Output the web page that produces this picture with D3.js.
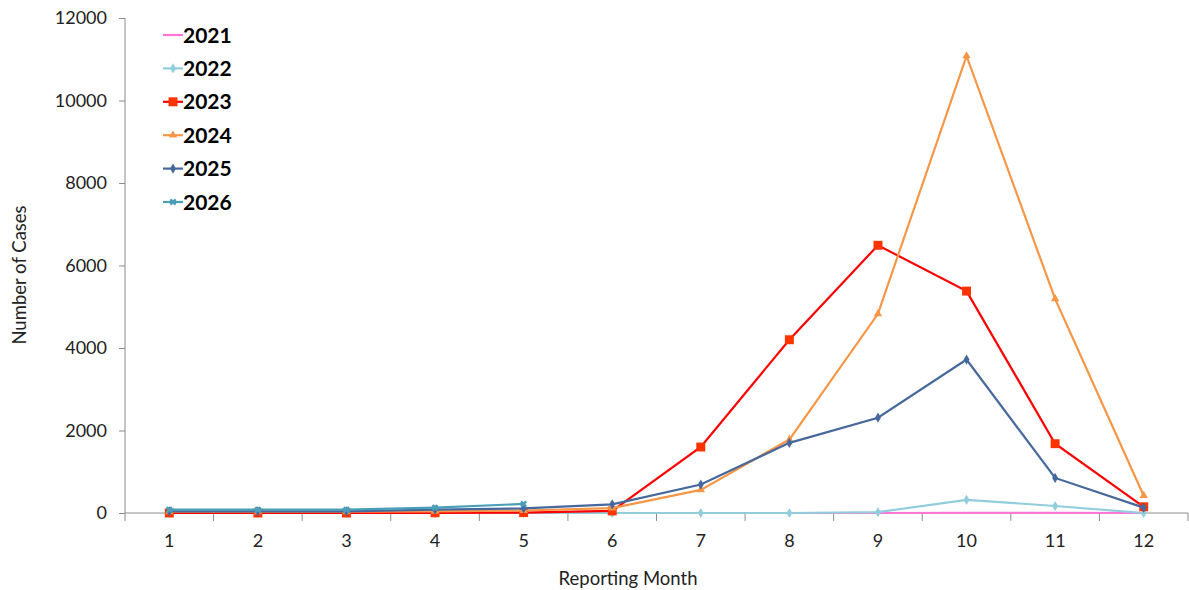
<!DOCTYPE html>
<html>
<head>
<meta charset="utf-8">
<script src="https://cdn.jsdelivr.net/npm/d3@7"></script>
<style>
  body { margin: 0; background: #fff; }
  text { font-family: Lato, "Open Sans", sans-serif; }
</style>
</head>
<body>
<script>
// Data
const months = [1, 2, 3, 4, 5, 6, 7, 8, 9, 10, 11, 12];
const years = ["2021", "2022", "2023", "2024", "2025", "2026"];
const cases2021 = [0, 0, 0, 0, 0, 0, 0, 0, 0, 5, 3, 0];
const cases2022 = [0, 0, 0, 0, 0, 0, 0, 0, 20, 320, 170, 0];
const cases2023 = [0, 0, 0, 5, 10, 50, 1600, 4200, 6490, 5380, 1680, 150];
const cases2024 = [30, 30, 30, 40, 60, 120, 560, 1780, 4830, 11080, 5190, 420];
const cases2025 = [40, 40, 40, 80, 110, 210, 690, 1700, 2310, 3720, 850, 130];
const cases2026 = [80, 80, 80, 130, 220, null, null, null, null, null, null, null];
const seriesValues = [cases2021, cases2022, cases2023, cases2024, cases2025, cases2026];
const yTicks = [0, 2000, 4000, 6000, 8000, 10000, 12000];

const colors = ["#ff77d9", "#92cddc", "#ff0000", "#f79646", "#46689c", "#4a9fb8"];
const markerColors = ["#ff77d9", "#92cddc", "#ff3300", "#f79646", "#46689c", "#4a9fb8"];
const markerTypes = [null, d3.symbolDiamond, d3.symbolSquare, d3.symbolTriangle, d3.symbolDiamond, d3.symbolCross];
const markerSizes = [0, 30, 80, 30, 30, 30];

const W = 1189, H = 590;
const margin = {top: 18, right: 1, bottom: 77, left: 125};
const width = W - margin.left - margin.right;
const height = H - margin.top - margin.bottom;

const svg = d3.select("body").append("svg")
    .attr("width", W)
    .attr("height", H);

const g = svg.append("g")
    .attr("transform", `translate(${margin.left},${margin.top})`);

const x = d3.scaleBand().domain(months).range([0, width]);
const y = d3.scaleLinear().domain([0, 12000]).range([height, 0]);

// Axes
const axisColor = "#8c8c8c";
const yAxis = g.append("g")
    .call(d3.axisLeft(y).tickValues(yTicks).tickFormat(d3.format("d")).tickSize(6).tickPadding(12));
yAxis.select(".domain").attr("stroke", axisColor).attr("d", `M0,0V${height}`);
yAxis.selectAll(".tick line").attr("stroke", axisColor);
yAxis.selectAll("text").attr("fill", "#222").style("font-size", "18px");

const xAxis = g.append("g")
    .attr("transform", `translate(0,${height})`)
    .call(d3.axisBottom(x).tickSize(0).tickPadding(21));
xAxis.select(".domain").attr("stroke", axisColor).attr("d", `M0,0H${width}`);
xAxis.selectAll("text").attr("fill", "#222").style("font-size", "18px");
// category boundary ticks
g.append("g").selectAll("line")
    .data(d3.range(months.length + 1))
    .enter().append("line")
    .attr("x1", i => i * x.step())
    .attr("x2", i => i * x.step())
    .attr("y1", height)
    .attr("y2", height + 8)
    .attr("stroke", axisColor);

// Series
const line = d3.line()
    .defined(d => d != null)
    .x((d, i) => x(months[i]) + x.bandwidth() / 2)
    .y(d => y(d));

seriesValues.forEach((vals, s) => {
  g.append("path")
      .datum(vals)
      .attr("fill", "none")
      .attr("stroke", colors[s])
      .attr("stroke-width", 2.2)
      .attr("d", line);
  if (markerTypes[s]) {
    g.append("g").selectAll("path")
        .data(vals.map((v, i) => ({v, i})).filter(d => d.v != null))
        .enter().append("path")
        .attr("transform", d => `translate(${x(months[d.i]) + x.bandwidth() / 2},${y(d.v)})${markerTypes[s] === d3.symbolCross ? " rotate(45)" : ""}`)
        .attr("d", d3.symbol().type(markerTypes[s]).size(markerSizes[s]))
        .attr("fill", markerColors[s]);
  }
});

// Legend
const legend = svg.append("g");
years.forEach((yr, s) => {
  const ly = 35 + s * 33.4;
  legend.append("line")
      .attr("x1", 163).attr("x2", 183)
      .attr("y1", ly).attr("y2", ly)
      .attr("stroke", colors[s]).attr("stroke-width", 2.2);
  if (markerTypes[s]) {
    legend.append("path")
        .attr("transform", `translate(173,${ly})${markerTypes[s] === d3.symbolCross ? " rotate(45)" : ""}`)
        .attr("d", d3.symbol().type(markerTypes[s]).size(markerSizes[s]))
        .attr("fill", markerColors[s]);
  }
  legend.append("text")
      .attr("x", 183)
      .attr("y", ly)
      .attr("dy", "0.36em")
      .style("font-size", "21px")
      .style("font-weight", "bold")
      .attr("fill", "#000")
      .text(yr);
});

// Axis titles
svg.append("text")
    .attr("transform", "rotate(-90)")
    .attr("x", -275)
    .attr("y", 26)
    .style("text-anchor", "middle")
    .style("font-size", "18.5px")
    .attr("fill", "#222")
    .text("Number of Cases");

svg.append("text")
    .attr("x", 628)
    .attr("y", 585)
    .style("text-anchor", "middle")
    .style("font-size", "18.5px")
    .attr("fill", "#222")
    .text("Reporting Month");
</script>
</body>
</html>
